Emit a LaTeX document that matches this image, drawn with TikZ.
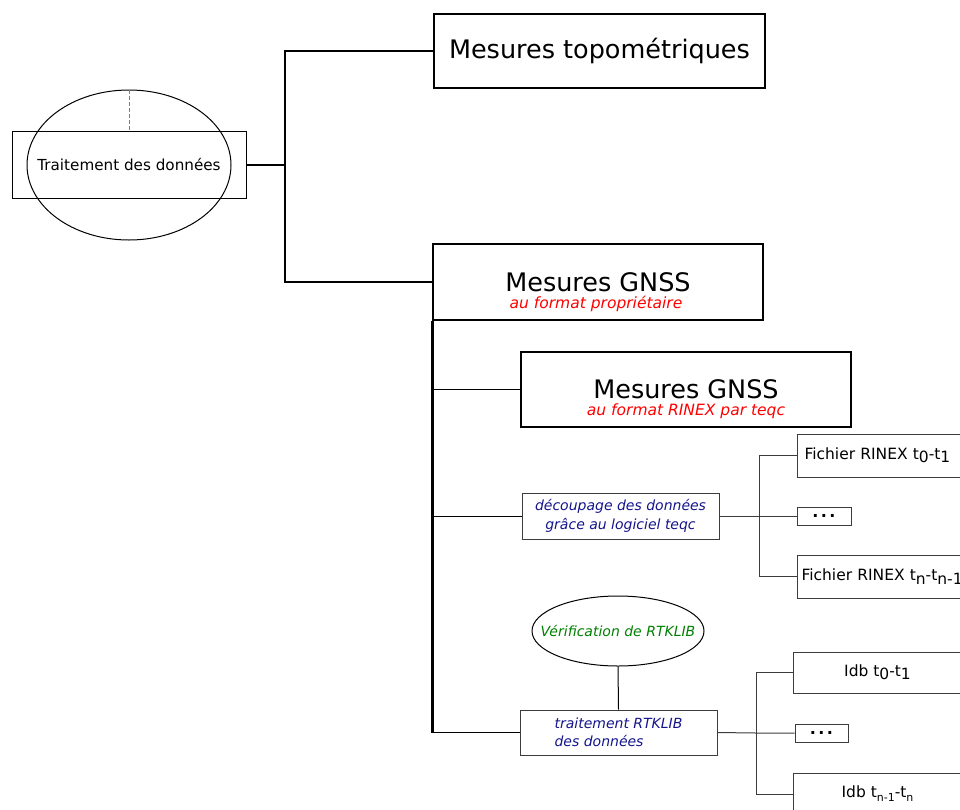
\documentclass[tikz,border=0pt]{standalone}
\usepackage{fontspec}
\setmainfont{DejaVu Sans}
\usetikzlibrary{shapes.geometric,positioning}
\definecolor{navyblue}{RGB}{20,20,140}
\definecolor{darkgreen}{RGB}{0,128,0}
\definecolor{linegray}{RGB}{60,60,60}
\newcommand{\ix}[1]{\raisebox{-0.4ex}{#1}}
\newcommand{\sx}[1]{\raisebox{-0.45ex}{\fontsize{11}{11}\selectfont #1}}
\newcommand{\etc}{.\kern2.4pt.\kern2.4pt.}
\begin{document}
\begin{tikzpicture}[x=1pt,y=-1pt,line width=1pt,
        bigbox/.style={draw,rectangle,line width=2pt,inner sep=0pt,font=\fontsize{25.5}{30}\selectfont},
        subtitle/.style={inner sep=0pt,text=red,font=\fontsize{15.5}{18}\selectfont\itshape},
        stepbox/.style={draw=linegray,rectangle,inner sep=0pt,minimum width=197,text=navyblue,font=\fontsize{14}{18.5}\selectfont\itshape},
        filebox/.style={draw=linegray,rectangle,inner sep=0pt,font=\fontsize{15.5}{18}\selectfont},
        dotbox/.style={draw=linegray,rectangle,inner sep=0pt,minimum width=54,minimum height=18,font=\fontsize{16}{16}\selectfont\bfseries},
        link/.style={draw=linegray}]
    \useasboundingbox (0,0) rectangle (960,809);
    \clip (0,0) rectangle (960,809);
    \node[draw,rectangle,inner sep=0pt,minimum width=234,minimum height=67,font=\fontsize{15.2}{18}\selectfont] (trait) at (129,164.5) {Traitement des données};
    \node[draw,ellipse,inner sep=0pt,minimum width=204,minimum height=150] (ell) at (129,165) {};
    \draw[gray,dash pattern=on 4pt off 2pt] (ell.north) -- (trait.north);
    \node[bigbox,minimum width=331,minimum height=74] (topo) at (599.5,51) {Mesures topométriques};
    \node[bigbox,minimum width=330,minimum height=76] (gnss) at (598,282) {Mesures GNSS};
    \node[subtitle] (gnsssub) at (596,304) {au format propriétaire};
    \node[bigbox,minimum width=330,minimum height=75] (rinex) at (686,389.5) {Mesures GNSS};
    \node[subtitle] (rinexsub) at (686,411) {au format RINEX par teqc};
    \node[stepbox,minimum height=46,align=center] (dec) at (620.5,516) {découpage des données\\grâce au logiciel teqc};
    \node[draw,ellipse,inner sep=0pt,minimum width=172,minimum height=70] (verif) at (618,631) {};
    \node[inner sep=0pt,text=darkgreen,font=\fontsize{14}{18}\selectfont\itshape] (veriftext) at (verif.center) {Vérification de RTKLIB};
    \node[stepbox,minimum height=45,align=left] (rtk) at (618.5,732.5) {traitement RTKLIB\\des données};
    \node[filebox,anchor=west,text width=176,inner xsep=7,minimum height=43,align=left] (f0) at (797,455.5) {Fichier RINEX t\ix{0}-t\ix{1}};
    \node[dotbox] (d1) at (824,516) {\etc};
    \node[filebox,anchor=west,text width=180,inner xsep=4,minimum height=43,align=left] (fn) at (797,576.5) {Fichier RINEX t\ix{n}-t\ix{n-1}};
    \node[filebox,anchor=west,minimum width=168,minimum height=41] (i0) at (793,672.5) {Idb t\ix{0}-t\ix{1}};
    \node[dotbox,minimum width=53] (d2) at (821.5,733) {\etc};
    \node[filebox,anchor=west,minimum width=168,minimum height=42] (in) at (793,794) {Idb t\sx{n-1}-t\sx{n}};
    \coordinate (hub) at (285,164.5);
    \draw[line width=2pt] (trait.east) -- (hub) |- (topo.west);
    \draw[line width=2pt] (hub) |- (gnss.west);
    \draw[line width=3pt] (gnss.south west) -- (gnss.south west |- rtk.west);
    \foreach \n in {rinex,dec,rtk}
        \draw (gnss.south west |- \n.west) -- (\n.west);
    \draw (verif.south) -- (rtk.north);
    \coordinate (split1) at (759,516);
    \draw[link] (dec.east) -- (split1) -- (d1.west);
    \draw[link] (f0.west) -| (split1) |- (fn.west);
    \coordinate (split2) at (756,733);
    \draw[link] (rtk.east) -- (split2) -- (d2.west);
    \draw[link] (i0.west) -| (split2) |- (in.west);
\end{tikzpicture}
\end{document}
